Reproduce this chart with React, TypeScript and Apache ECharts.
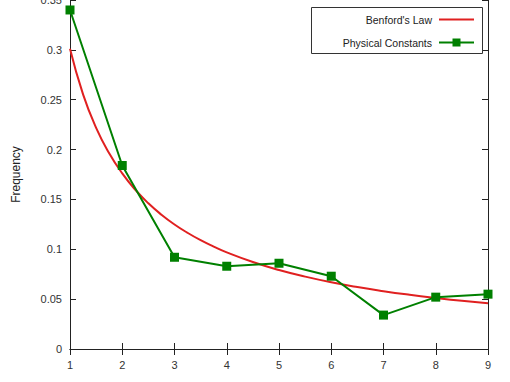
import React, { useEffect, useRef } from "react";
import * as echarts from "echarts";

const benfordX = [1, 1.25, 1.5, 1.75, 2, 2.25, 2.5, 2.75, 3, 3.25, 3.5, 3.75, 4, 4.5, 5, 5.5, 6, 6.5, 7, 7.5, 8, 8.5, 9];
const benfordY = [0.301, 0.2553, 0.2218, 0.1963, 0.1761, 0.1597, 0.1461, 0.1347, 0.1249, 0.1165, 0.1091, 0.1027, 0.0969, 0.0872, 0.0792, 0.0726, 0.0669, 0.0621, 0.058, 0.0544, 0.0512, 0.0483, 0.0458];
const digits = [1, 2, 3, 4, 5, 6, 7, 8, 9];
const physical = [0.34, 0.184, 0.092, 0.083, 0.086, 0.073, 0.034, 0.052, 0.055];
const seriesNames = ["Benford's Law", "Physical Constants"];
const yAxisName = "Frequency";

const FONT = "'Liberation Sans', Arial, sans-serif";

export default function App() {
  const ref = useRef<HTMLDivElement>(null);
  useEffect(() => {
    if (!ref.current) return;
    const chart = echarts.init(ref.current, undefined, { renderer: "svg" });
    const axisLine = { show: true, lineStyle: { color: "#222", width: 1 } };
    const tick = { show: true, inside: true, length: 6, lineStyle: { color: "#222" } };
    const label = { color: "#333", fontSize: 11, fontFamily: FONT };
    const legendText = { color: "#222", fontSize: 10.5, fontFamily: FONT, padding: [0, 2, 0, 0] };
    chart.setOption({
      animation: false,
      backgroundColor: "#fff",
      grid: { left: 70, right: 22, top: 0, bottom: 33, outerBoundsMode: "none", containLabel: false },
      xAxis: [
        {
          type: "value", min: 1, max: 9, interval: 1, position: "bottom",
          axisLine, axisTick: tick, axisLabel: { ...label, margin: 10 }, splitLine: { show: false },
        },
        {
          type: "value", min: 1, max: 9, interval: 1, position: "top",
          axisLine, axisTick: tick, axisLabel: { show: false }, splitLine: { show: false },
        },
      ],
      yAxis: [
        {
          type: "value", min: 0, max: 0.35, interval: 0.05, position: "left",
          name: yAxisName, nameLocation: "middle", nameGap: 48,
          nameTextStyle: { ...label, fontSize: 12, color: "#222" },
          axisLine, axisTick: tick, axisLabel: { ...label, margin: 8 }, splitLine: { show: false },
        },
        {
          type: "value", min: 0, max: 0.35, interval: 0.05, position: "right",
          axisLine, axisTick: tick, axisLabel: { show: false }, splitLine: { show: false },
        },
      ],
      legend: [
        {
          data: [{ name: seriesNames[0], itemStyle: { opacity: 0 } }], orient: "vertical", align: "right", right: 35, top: 14,
          padding: 0, itemWidth: 35, itemHeight: 10, itemGap: 0, textStyle: legendText,
        },
        {
          data: [seriesNames[1]], orient: "vertical", align: "right", right: 35, top: 37,
          padding: 0, itemWidth: 35, itemHeight: 10, itemGap: 0, textStyle: legendText,
        },
      ],
      graphic: [
        {
          type: "rect", shape: { x: 311.5, y: 7.5, width: 171, height: 46 },
          style: { fill: "none", stroke: "#333", lineWidth: 1 }, z: 100,
        },
      ],
      series: [
        {
          name: seriesNames[0], type: "line", xAxisIndex: 0, yAxisIndex: 0,
          data: benfordX.map((x, i) => [x, benfordY[i]]),
          smooth: true, showSymbol: false, symbol: "none",
          lineStyle: { color: "#e02020", width: 2 }, itemStyle: { color: "#e02020" },
        },
        {
          name: seriesNames[1], type: "line", xAxisIndex: 0, yAxisIndex: 0,
          data: digits.map((x, i) => [x, physical[i]]),
          symbol: "rect", symbolSize: 9,
          lineStyle: { color: "#008000", width: 2 }, itemStyle: { color: "#008000" },
        },
      ],
    });
    return () => chart.dispose();
  }, []);
  return <div ref={ref} style={{ width: 510, height: 382, position: "absolute", left: 0, top: 0 }} />;
}
